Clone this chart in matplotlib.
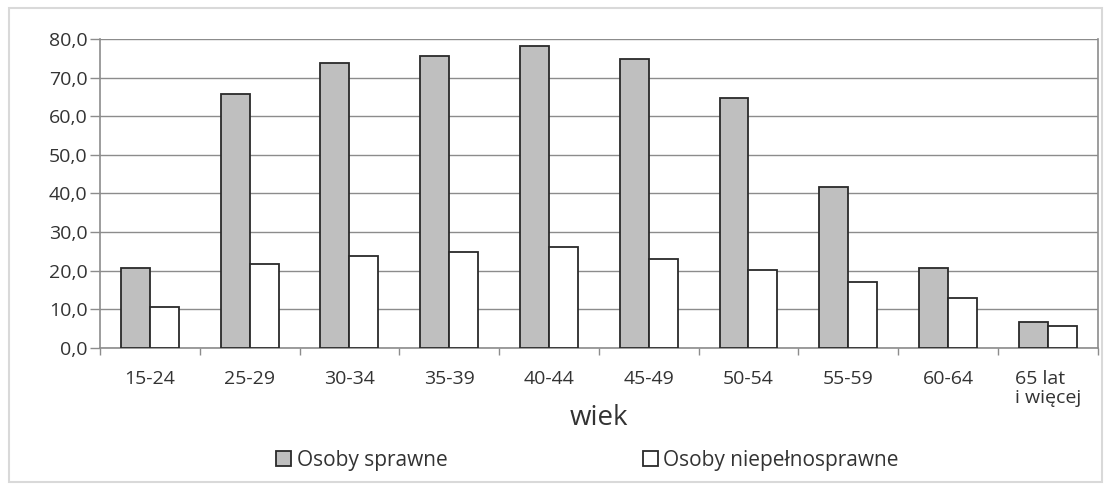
import numpy as np
import matplotlib.pyplot as plt
from matplotlib.patches import Rectangle
from matplotlib.ticker import FuncFormatter, FixedLocator

# ========== dane ==========
kategorie = ['15-24', '25-29', '30-34', '35-39', '40-44', '45-49',
             '50-54', '55-59', '60-64', '65 lat\ni więcej']
sprawne = [20.7, 65.8, 73.8, 75.6, 78.2, 74.9, 64.8, 41.7, 20.7, 6.7]
niepelnosprawne = [10.6, 21.8, 23.8, 24.9, 26.2, 23.1, 20.2, 17.1, 13.0, 5.7]
etykiety_serii = ['Osoby sprawne', 'Osoby niepełnosprawne']

plt.rcParams['font.family'] = ['Open Sans', 'DejaVu Sans']
kolor_tekstu = '#333333'
kolor_osi = '#8c8c8c'

fig = plt.figure(figsize=(11.11, 4.88), dpi=100)
fig.patches.append(Rectangle((0.008, 0.012), 0.984, 0.972, transform=fig.transFigure,
                             fill=False, edgecolor='#d9d9d9', linewidth=1.5))
ax = fig.add_axes([0.090, 0.287, 0.898, 0.633])

x = np.arange(len(kategorie))
w = 0.29
ax.bar(x - w / 2, sprawne, w, color='#bfbfbf', edgecolor='#2a2a2a', linewidth=1.3,
       label=etykiety_serii[0], zorder=3)
ax.bar(x + w / 2, niepelnosprawne, w, color='white', edgecolor='#2a2a2a', linewidth=1.3,
       label=etykiety_serii[1], zorder=3)

ax.set_xlim(-0.5, len(kategorie) - 0.5)
ax.set_ylim(0, 80)
ax.set_yticks(np.arange(0, 81, 10))
ax.yaxis.set_major_formatter(FuncFormatter(lambda v, p: f'{v:.1f}'.replace('.', ',')))
ax.yaxis.grid(True, color=kolor_osi, linewidth=1.0, zorder=0)

# etykiety osi X (ostatnia dwuwierszowa, wyrównana do lewej)
ax.set_xticks(x)
ax.set_xticklabels(kategorie, fontsize=14, color=kolor_tekstu, linespacing=1.05,
                   ha='center', va='top', multialignment='left')
ax.xaxis.set_minor_locator(FixedLocator(np.arange(-0.5, len(kategorie), 1)))
ax.tick_params(axis='x', which='major', length=0, pad=16)
ax.tick_params(axis='x', which='minor', length=5, color=kolor_osi, width=1)
ax.tick_params(axis='y', length=7, color=kolor_osi, width=1, labelsize=14,
               labelcolor=kolor_tekstu, pad=2)

for s in ['left', 'bottom', 'right']:
    ax.spines[s].set_color(kolor_osi)
    ax.spines[s].set_linewidth(1.2)
ax.spines['top'].set_visible(False)

ax.set_xlabel('wiek', fontsize=20, color=kolor_tekstu, va='baseline')
ax.xaxis.set_label_coords(0.5, -0.249)

fig.legend(loc='center', bbox_to_anchor=(0.529, 0.057), ncol=2, frameon=False,
           fontsize=15, handlelength=0.72, handleheight=0.72, handletextpad=0.25,
           columnspacing=9.4, labelcolor=kolor_tekstu)

fig.savefig('out.png', dpi=100)
